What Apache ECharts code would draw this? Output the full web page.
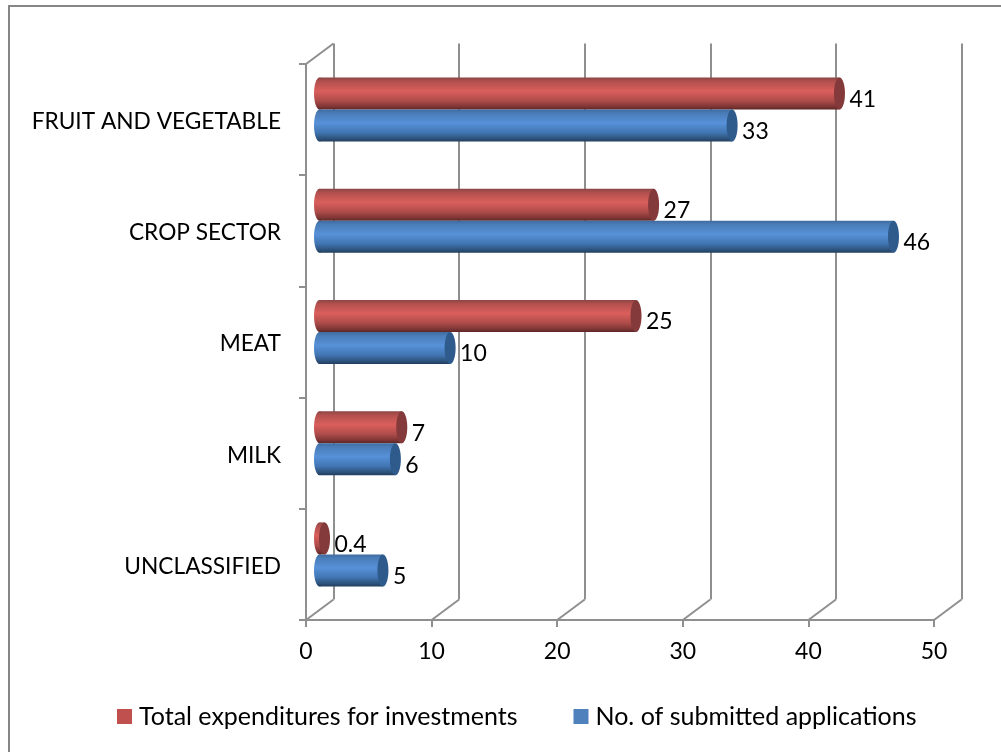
<!DOCTYPE html>
<html><head><meta charset="utf-8">
<style>html,body{margin:0;padding:0;background:#fff}#c{width:1001px;height:752px}</style>
<script src="https://cdn.jsdelivr.net/npm/echarts@6/dist/echarts.min.js"></script>
</head><body><div id="c"></div>
<script>
const categories = ['FRUIT AND VEGETABLE','CROP SECTOR','MEAT','MILK','UNCLASSIFIED'];
const expenditures = [41.4, 26.6, 25.2, 6.55, 0.4];
const applications = [32.85, 45.7, 10.4, 6.04, 5.05];
const xTicks = [0,10,20,30,40,50];
const seriesNames = ['Total expenditures for investments','No. of submitted applications'];

const FONT = 'Lato';
const AXIS = '#8f8f8f';
const grad = s => ({type:'linear',x:0,y:0,x2:0,y2:1,colorStops:s});
const redGrad = grad([{offset:0,color:'#8c4544'},{offset:.12,color:'#b2504e'},{offset:.42,color:'#da5f5c'},{offset:.72,color:'#ae4c4a'},{offset:.92,color:'#7a3433'},{offset:1,color:'#5c2625'}]);
const blueGrad = grad([{offset:0,color:'#3f6b9f'},{offset:.12,color:'#4a7db9'},{offset:.42,color:'#5791d8'},{offset:.72,color:'#4175b2'},{offset:.92,color:'#2c5078'},{offset:1,color:'#213d5e'}]);
const BAR_H = 32, CAP_RX = 5.5, DX = 27.5, DY = 20.5;

const fmt = v => v < 1 ? String(v) : String(Math.round(v));
const hiddenX = i => ({type:'value',gridIndex:i,min:0,max:50,interval:10,show:false});
const hiddenY = i => ({type:'category',gridIndex:i,data:categories,inverse:true,show:false});

function barSeries(name, values, fill){
  return {type:'bar',name,data:values,xAxisIndex:1,yAxisIndex:1,barWidth:BAR_H,barGap:'0%',
    z:3,itemStyle:{color:fill},
    label:{show:true,position:'right',distance:10,offset:[0,6],color:'#000',fontFamily:FONT,fontSize:23,
      formatter:p=>fmt(p.value)}};
}
function capSeries(values, fill, capColor, shift){
  return {type:'custom',xAxisIndex:1,yAxisIndex:1,z:4,silent:true,clip:false,
    data:values.map((v,i)=>[v,i]),
    encode:{x:0,y:1},
    renderItem:(p,api)=>{
      const end=api.coord([api.value(0),api.value(1)]);
      const start=api.coord([0,api.value(1)]);
      const cy=end[1]+shift*BAR_H/2;
      return {type:'group',children:[
        {type:'ellipse',shape:{cx:start[0],cy,rx:CAP_RX,ry:BAR_H/2},style:{fill}},
        {type:'ellipse',shape:{cx:end[0],cy,rx:CAP_RX,ry:BAR_H/2},style:{fill:capColor}}
      ]};
    }};
}
const option = {
  animation:false,
  backgroundColor:'#fff',
  graphic:[
    {type:'line',silent:true,shape:{x1:9,y1:6,x2:1001,y2:6},style:{stroke:'#868686',lineWidth:2}},
    {type:'line',silent:true,shape:{x1:9,y1:5,x2:9,y2:752},style:{stroke:'#868686',lineWidth:2}}
  ],
  legend:{left:112,top:699,itemWidth:15,itemHeight:15,itemGap:56,icon:'rect',
    textStyle:{fontFamily:FONT,fontSize:25,color:'#000',padding:[0,0,0,2]},
    data:[{name:seriesNames[0],itemStyle:{color:'#c0504d'}},{name:seriesNames[1],itemStyle:{color:'#4f81bd'}}]},
  grid:[
    {left:306,top:64,width:628,height:556},
    {left:319.5,top:54,width:628,height:556},
    {left:306+DX,top:64-DY,width:628,height:556}
  ],
  xAxis:[
    {type:'value',gridIndex:0,min:0,max:50,interval:10,
      axisLine:{show:true,onZero:false,lineStyle:{color:AXIS,width:2}},
      axisTick:{show:true,length:7,lineStyle:{color:AXIS,width:2}},
      splitLine:{show:false},
      axisLabel:{margin:20,color:'#000',fontFamily:FONT,fontSize:23,customValues:xTicks}},
    hiddenX(1),
    {type:'value',gridIndex:2,min:0,max:50,interval:10,
      axisLine:{show:false},axisTick:{show:false},axisLabel:{show:false},
      splitLine:{show:true,lineStyle:{color:AXIS,width:2}}}
  ],
  yAxis:[
    {type:'category',gridIndex:0,data:categories,inverse:true,
      axisLine:{show:true,onZero:false,lineStyle:{color:AXIS,width:2}},
      axisTick:{show:true,length:7,alignWithLabel:false,lineStyle:{color:AXIS,width:2}},
      axisLabel:{margin:25,formatter:'{a|{value}}',
        rich:{a:{color:'#000',fontFamily:FONT,fontSize:22.7,padding:[4,0,0,0]}}}},
    hiddenY(1),
    {type:'category',gridIndex:2,data:categories,inverse:true,show:false}
  ],
  series:[
    {type:'custom',xAxisIndex:0,yAxisIndex:0,z:1,silent:true,clip:false,
      data:xTicks.map(v=>[v,0]),encode:{x:0,y:1},
      renderItem:(p,api)=>{
        const x=api.coord([api.value(0),0])[0];
        const cs=p.coordSys,style={stroke:AXIS,lineWidth:2},kids=[
          {type:'line',shape:{x1:x,y1:cs.y+cs.height,x2:x+DX,y2:cs.y+cs.height-DY},style}];
        if(p.dataIndex===0) kids.push({type:'line',shape:{x1:x,y1:cs.y,x2:x+DX,y2:cs.y-DY},style});
        return {type:'group',children:kids};
      }},
    capSeries(expenditures,redGrad,'#84393a',-1),
    capSeries(applications,blueGrad,'#2f5a8c',1),
    barSeries(seriesNames[0],expenditures,redGrad),
    barSeries(seriesNames[1],applications,blueGrad)
  ]
};
const chart = echarts.init(document.getElementById('c'),null,{renderer:'canvas'});
chart.setOption(option);
</script></body></html>
